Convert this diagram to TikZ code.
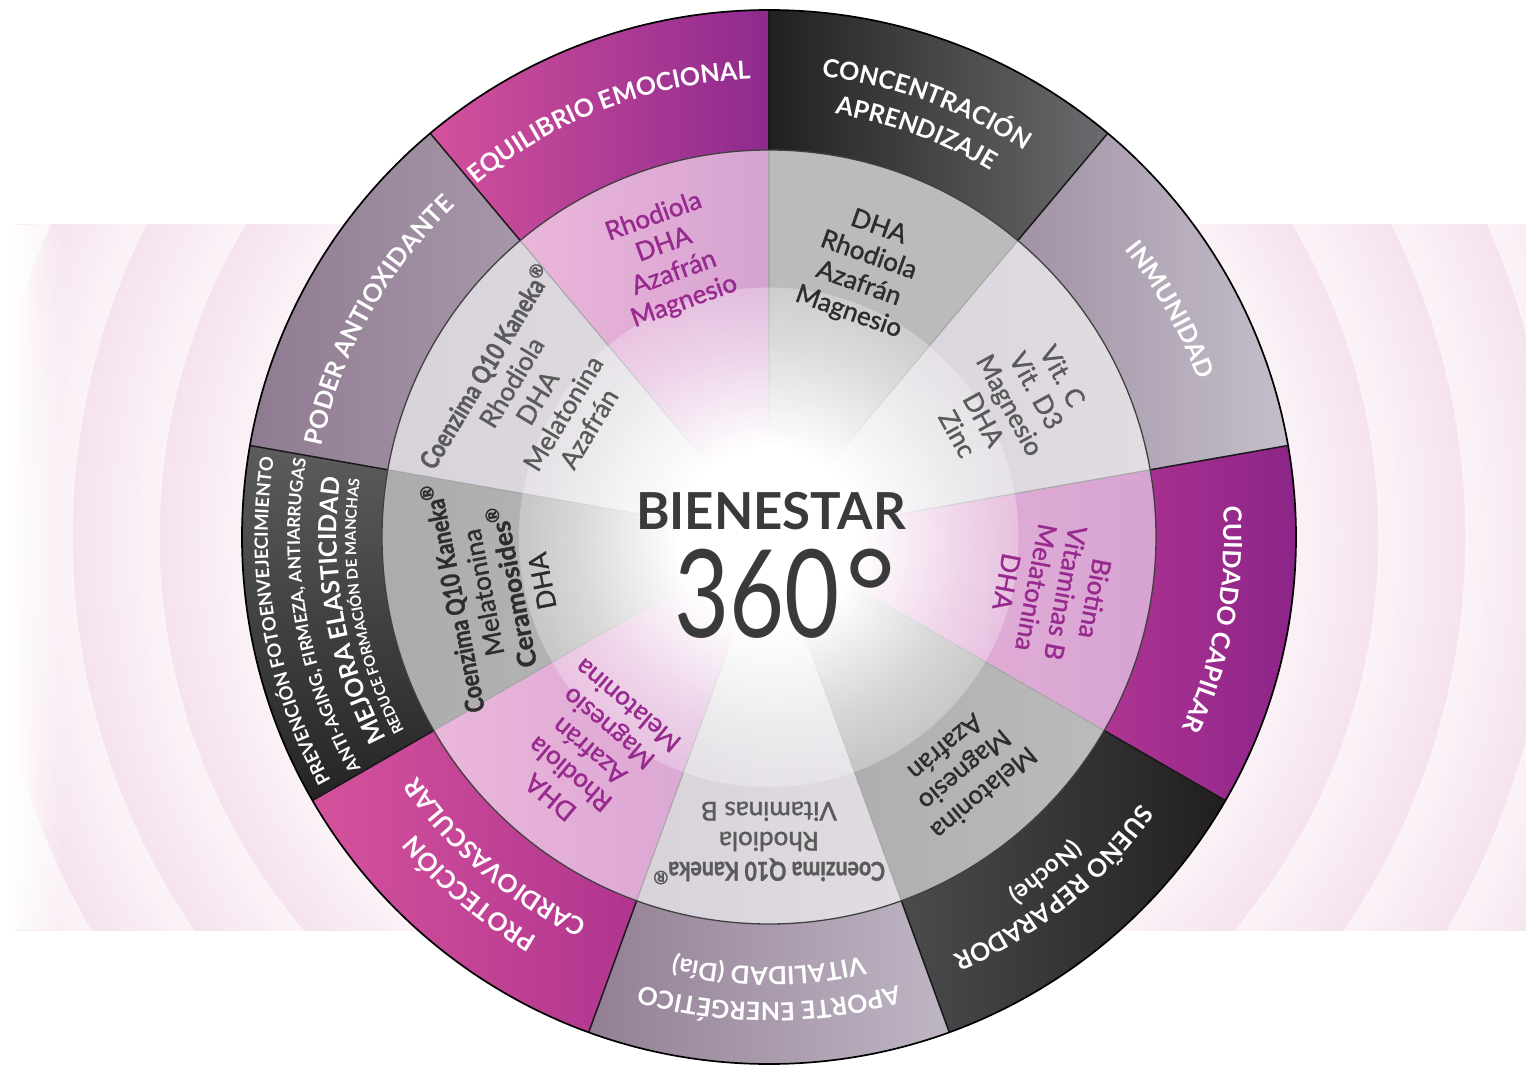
\documentclass[tikz,border=0pt]{standalone}
\usepackage{fontspec}
\setmainfont{Lato}
\newfontfamily\medfont{Lato}[FakeBold=1.2]
\usepackage{graphicx}
\usetikzlibrary{decorations.text,fadings}

\definecolor{ringA}{HTML}{FBF3F8}
\definecolor{ringB}{HTML}{F5E2EE}
\definecolor{o1L}{HTML}{D4519C}\definecolor{o1R}{HTML}{8E2A8E}
\definecolor{o2L}{HTML}{221F20}\definecolor{o2R}{HTML}{6B6C6F}
\definecolor{o3L}{HTML}{A192A5}\definecolor{o3R}{HTML}{C5BECA}
\definecolor{o4L}{HTML}{AE3492}\definecolor{o4R}{HTML}{8A2388}
\definecolor{o5L}{HTML}{4B4B4D}\definecolor{o5R}{HTML}{211E1F}
\definecolor{o6L}{HTML}{937F95}\definecolor{o6R}{HTML}{BFB6C4}
\definecolor{o7L}{HTML}{D5529C}\definecolor{o7R}{HTML}{B0358F}
\definecolor{o8T}{HTML}{5C5C5E}\definecolor{o8B}{HTML}{252425}
\definecolor{o9L}{HTML}{8F7B91}\definecolor{o9R}{HTML}{A797AA}
\definecolor{pinkL}{HTML}{EBB6DA}\definecolor{pinkR}{HTML}{D6A3D2}
\definecolor{grayL}{HTML}{ABABAB}\definecolor{grayR}{HTML}{BBBBBB}
\definecolor{liteL}{HTML}{D8D3DA}\definecolor{liteR}{HTML}{E0DCE2}
\definecolor{pinktxt}{HTML}{982A8F}
\definecolor{graytxt}{HTML}{2D2D2D}
\definecolor{litetxt}{HTML}{5A5A5A}
\definecolor{centertxt}{HTML}{3A3A3A}

\tikzfading[name=leftfade, left color=transparent!0, right color=transparent!100]
\pgfdeclareradialshading{glowsh}{\pgfpointorigin}{color(0bp)=(white); color(9bp)=(white); color(19bp)=(white!50!black); color(32bp)=(black); color(50bp)=(black)}
\pgfdeclarefading{glowfade}{\pgfuseshading{glowsh}}

\newcommand{\arclabel}[4]{%
  \path[decorate,
    decoration={text along path, text align=center,
      text={|\fontsize{#3}{#3}\selectfont\bfseries\color{white}|#4}}]
    ({#1+45}:#2) arc[start angle={#1+45}, end angle={#1-45}, radius=#2];
}
\newcommand{\osector}[3]{\shade[#3] (#1:387) arc[start angle=#1, end angle=#2, radius=387] -- (#2:527) arc[start angle=#2, end angle=#1, radius=527] -- cycle;}
\newcommand{\isector}[3]{\shade[#3] (0,0) -- (#1:387) arc[start angle=#1, end angle=#2, radius=387] -- cycle;}
\newcommand{\coenz}{\scalebox{0.82}[1]{\bfseries Coenzima Q10 Kaneka}\textsuperscript{\bfseries ®}}

\begin{document}
\begin{tikzpicture}[x=1pt,y=1pt,
  ing/.style={align=center, inner sep=0pt, font=\medfont\fontsize{26}{30}\selectfont},
  segline/.style={draw=black!90, line width=1.5pt},
  innerline/.style={draw=black!35, line width=1.1pt}]
\useasboundingbox (-769,-531) rectangle (757,537);
\fill[white] (-769,-531) rectangle (757,537);

% background band with rings
\begin{scope}
  \clip (-754,-393) rectangle (757,312);
  \fill[ringA] (-754,-393) rectangle (757,312);
  \foreach \r in {524,527,...,875}{
    \pgfmathtruncatemacro{\p}{100*mod(\r-524,87)/87}
    \draw[line width=3.3pt, draw=ringB!\p!ringA] (0,0) circle (\r);
  }
\end{scope}
\fill[white, path fading=leftfade] (-756,-393) rectangle (-705,312);

% outer ring sectors
\osector{90}{130}{left color=o1L, right color=o1R}
\osector{50}{90}{left color=o2L, right color=o2R}
\osector{10}{50}{left color=o3L, right color=o3R}
\osector{-30}{10}{left color=o4L, right color=o4R}
\osector{-70}{-30}{left color=o5L, right color=o5R}
\osector{-110}{-70}{left color=o6L, right color=o6R}
\osector{-150}{-110}{left color=o7L, right color=o7R}
\osector{-190}{-150}{top color=o8T, bottom color=o8B}
\osector{-230}{-190}{left color=o9L, right color=o9R}

% inner sectors
\isector{90}{130}{left color=pinkL, right color=pinkR}
\isector{50}{90}{left color=grayR, right color=grayR}
\isector{10}{50}{left color=liteL, right color=liteR}
\isector{-30}{10}{left color=pinkL, right color=pinkR}
\isector{-70}{-30}{left color=grayL, right color=grayR}
\isector{-110}{-70}{left color=liteL, right color=liteR}
\isector{-150}{-110}{left color=pinkL, right color=pinkR}
\isector{-190}{-150}{left color=grayL, right color=grayR}
\isector{-230}{-190}{left color=liteL, right color=liteR}

\foreach \a in {90,50,10,-30,-70,-110,-150,-190,-230}
  \draw[innerline] (\a:90) -- (\a:387);

% central glow
\fill[white, path fading=glowfade] (0,0) circle (250);

\foreach \a in {90,50,10,-30,-70,-110,-150,-190,-230}
  \draw[segline] (\a:387) -- (\a:527);
\draw[draw=black!75, line width=1.3pt] (0,0) circle (387);
\draw[draw=black, line width=1.7pt] (0,0) circle (527);

% ingredient texts
\node[ing, text=pinktxt, rotate=19.8] (ing1) at (109.8:295) {Rhodiola\\DHA\\Azafrán\\Magnesio};
\node[ing, text=graytxt, rotate=-19.5] (ing2) at (70.5:283) {DHA\\Rhodiola\\Azafrán\\Magnesio};
\node[ing, text=litetxt, rotate=-61.3] (ing3) at (28.7:275) {Vit. C\\Vit. D3\\Magnesio\\DHA\\Zinc};
\node[ing, text=pinktxt, rotate=-100.7] (ing4) at (-10.7:287) {Biotina\\Vitaminas B\\Melatonina\\DHA};
\node[ing, text=graytxt, rotate=-140] (ing5) at (-50:305) {Melatonina\\Magnesio\\Azafrán};
\node[ing, text=litetxt, rotate=180] (ing6) at (-90:306) {\coenz\\Rhodiola\\Vitaminas B};
\node[ing, text=pinktxt, rotate=140] (ing7) at (230:280) {DHA\\Rhodiola\\Azafrán\\Magnesio\\Melatonina};
\node[ing, text=graytxt, rotate=101] (ing8) at (191:278) {\coenz\\Melatonina\\\textbf{Ceramosides}\textsuperscript{\bfseries ®}\\DHA};
\node[ing, text=litetxt, rotate=59] (ing9) at (149:272) {\coenz\\Rhodiola\\DHA\\Melatonina\\Azafrán};

% centre title
\node[text=centertxt, inner sep=0pt, font=\fontsize{51}{51}\selectfont\bfseries] (title) at (2,26) {BIENESTAR};
\node[text=centertxt, inner sep=0pt, font=\fontsize{122}{122}\selectfont] (num) at (16,-57) {\scalebox{0.78}[1]{360}\hspace{5pt}°};

% outer labels
\arclabel{111}{458}{25}{EQUILIBRIO EMOCIONAL}
\arclabel{70}{463}{25}{CONCENTRACIÓN}
\arclabel{70}{428}{25}{APRENDIZAJE}
\arclabel{29.5}{457}{25}{INMUNIDAD}
\arclabel{-10.5}{455}{25}{CUIDADO CAPILAR}
\arclabel{-51}{457}{25}{SUEÑO REPARADOR}
\arclabel{-50.5}{428}{24}{(Noche)}
\arclabel{-90}{466}{25}{APORTE ENERGÉTICO}
\arclabel{-90}{430}{25}{VITALIDAD (Día)}
\arclabel{230}{462}{25}{PROTECCIÓN}
\arclabel{229.5}{425}{25}{CARDIOVASCULAR}
\arclabel{190}{501}{18.5}{PREVENCIÓN FOTOENVEJECIMIENTO}
\arclabel{190}{469}{17.5}{ANTI-AGING, FIRMEZA, ANTIARRUGAS}
\arclabel{190}{432}{25}{MEJORA ELASTICIDAD}
\arclabel{190}{413}{15}{REDUCE FORMACIÓN DE MANCHAS}
\arclabel{151}{456}{25}{PODER ANTIOXIDANTE}
\end{tikzpicture}
\end{document}
